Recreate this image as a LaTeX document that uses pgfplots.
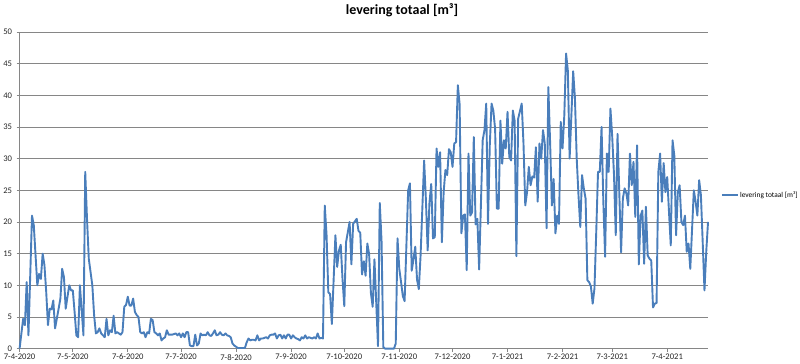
\documentclass[border=0pt]{standalone}
\usepackage{pgfplots}
\usepackage{pgfplotstable}
\pgfplotsset{compat=1.18}
\usepackage{fontspec}
\setmainfont{Carlito}
\definecolor{xlblue}{RGB}{74,126,187}
\definecolor{xlgrid}{RGB}{134,134,134}
\pgfplotstableread{
day val
0 0
2 4.7
3 3.7
4 10.5
5 2.1
7 21
8 19.5
10 10
11 11.8
12 11
13 15
14 13.2
15 9
16 3.7
17 6.3
18 6.2
19 7.6
20 3.2
22 6.3
23 7.9
24 12.6
25 11.3
26 6.3
27 8.2
28 10
29 9.2
30 9.2
31 5.8
32 2.1
33 1.8
34 10
36 2.1
37 27.9
38 20.5
39 14.2
41 10
42 5.3
43 2.4
44 2.6
45 3.2
46 2.4
47 2.1
48 1.8
49 4.7
50 2.1
51 2.9
52 2.6
53 5.2
54 2.4
55 2.6
56 2.4
57 2.2
58 2.6
59 6.6
60 6.9
61 8.2
62 6.8
63 6.8
64 7.9
65 5.8
66 5.3
67 5.0
68 2.6
69 2.4
70 2.6
71 1.8
72 2.6
73 2.4
74 4.7
75 4.5
76 2.6
77 2.4
78 2.1
79 2.4
80 1.3
81 1.6
82 1.8
83 2.9
84 2.2
85 2.2
86 2.2
87 2.3
88 2.4
89 2.1
90 2.4
91 1.8
92 2.4
93 1.8
94 2.6
95 2.6
96 0.5
97 0.4
98 0.4
99 2.2
100 0.5
101 0.8
102 2.4
103 2.1
104 2.2
105 2.1
106 2.6
107 2.1
108 2.0
109 2.4
110 2.9
111 2.1
112 2.2
113 2.6
114 2.2
115 2.1
116 2.4
117 2.1
118 2.0
119 1.8
120 0.8
121 0.5
122 0.3
123 0.1
124 0.1
125 0.1
126 0.1
127 0.1
128 1.0
129 1.6
130 1.3
131 1.4
132 1.4
133 1.3
134 2.1
135 1.3
136 1.6
137 1.6
138 1.7
139 1.8
140 1.6
141 2.1
142 2.2
143 2.2
144 2.4
145 1.6
146 2.1
147 2.2
148 1.6
149 2.1
150 1.6
151 2.2
152 2.2
153 1.6
154 2.1
155 1.8
156 1.6
157 1.5
158 1.3
159 1.8
160 1.6
161 2.1
162 1.6
163 1.8
164 1.7
165 1.6
166 1.8
167 1.6
168 2.4
169 1.6
170 1.7
171 1.6
172 22.6
173 18
174 8.9
175 8.6
176 3.9
178 17.9
179 12.9
180 15.5
181 16.4
182 11
183 6.7
184 16.8
186 20
187 13.3
188 19.7
190 20.5
191 18.6
192 18.3
193 11.7
194 13.8
195 11.5
196 16.6
197 14.9
198 8.8
199 6.6
200 14.1
201 7.3
202 0.4
203 23
204 17
205 0.2
206 0
207 0
208 0
209 0
210 0
211 0
212 0.8
213 17.4
214 12.6
215 10.5
216 8.3
217 7.5
219 25
220 26.1
221 12.3
222 14.1
223 16.1
224 10.9
225 9.4
226 14.7
228 29.7
229 23.5
230 15.5
231 23
232 26
233 17.4
234 17.6
235 31.6
236 28.7
237 31
238 16.8
239 24.7
240 28.2
241 27.4
242 31.5
243 31
244 28.7
245 32.4
246 32.6
247 41.6
248 38.6
249 18.2
250 21
251 21.2
252 12.4
253 30.8
254 21
255 21.5
256 33.4
257 19.6
258 20.5
259 12.5
261 32.9
262 34.5
263 38.7
264 19.7
265 32.1
266 38.7
267 37.6
268 34.7
269 22.1
270 22.1
271 36
272 29.2
273 32.9
274 31.6
275 37.4
276 30.3
277 29.7
278 37.6
279 36
280 14.6
281 36.3
283 38.7
284 32.4
285 22.6
286 24.7
287 28.7
288 25.8
289 27.2
290 27
291 31.8
292 23.2
293 32.4
294 30
295 34.5
296 32.4
297 19
298 41.3
299 32.6
300 22.6
301 26.8
302 18.2
303 21
304 19.7
305 35.8
306 31.6
307 36.8
308 46.6
309 43.9
310 30
312 43.8
313 39.5
314 30
315 24.2
316 19.2
317 27.4
318 25.3
319 23.7
320 10.8
321 10.5
322 9.8
323 7.1
324 9.5
325 18.4
326 27.9
327 27.9
328 35
329 23.2
330 14.5
331 30.8
332 27.9
333 37.9
334 33.5
335 27.5
336 17.9
337 33.9
339 15.2
340 23.7
341 25.3
342 24.5
343 22.6
344 30.8
345 25.8
346 29.5
347 20.8
348 32.1
349 13.3
350 21
351 21.8
352 13.4
353 22.4
354 14.7
355 14.2
356 13.9
357 6.5
358 7.1
359 7.2
360 27.9
361 30.8
362 23.2
363 29.3
364 24.7
365 27.1
366 21.6
367 16.3
368 32.9
369 30.5
370 17.9
371 24.7
372 25.8
373 20
374 19.5
375 21
376 15.3
377 16.6
378 12.6
380 25
381 23.2
382 21
383 26.6
384 24.2
385 16.8
386 9.2
387 15.3
388 20
}\data
\begin{document}
\begin{tikzpicture}
\begin{axis}[
  scale only axis,
  width=688.5pt, height=316.7pt,
  xmin=0, xmax=388, ymin=0, ymax=50,
  axis x line*=bottom, axis y line*=left,
  axis line style={draw=xlgrid, line width=0.75pt},
  xtick={0,30,61,91,122,153,183,214,244,275,306,334,365},
  xticklabels={7-4-2020,7-5-2020,7-6-2020,7-7-2020,7-8-2020,7-9-2020,7-10-2020,7-11-2020,7-12-2020,7-1-2021,7-2-2021,7-3-2021,7-4-2021},
  ytick={0,5,...,50},
  tick align=outside,
  major tick length=3pt,
  tick style={draw=xlgrid, line width=0.75pt},
  ymajorgrids,
  grid style={draw=xlgrid, line width=0.75pt},
  /pgf/number format/assume math mode=true,
  tick label style={font=\fontsize{8.6}{10}\selectfont, text=black!85},
  xticklabel style={yshift=1pt},
  yticklabel style={xshift=-1pt},
  clip=false,
  title={levering totaal [m³]},
  title style={at={(0.5556,1.0505)}, anchor=center, font=\bfseries\fontsize{14}{16}\selectfont},
  legend style={at={(1.0185,0.485)}, anchor=west, draw=none, fill=none, inner sep=0pt,
    font=\fontsize{7.4}{9}\selectfont, nodes={inner sep=1.2pt}},
  legend cell align=left,
  legend image code/.code={\draw[#1] (0pt,0pt) -- (16pt,0pt);},
]
\addplot[color=xlblue, line width=1.9pt, line join=round] table[x=day, y=val] {\data};
\addlegendentry{levering totaal [m³]}
\end{axis}
\path[use as bounding box] (-19.5pt,-15.3pt) rectangle (780.5pt,346.7pt);
\end{tikzpicture}
\end{document}
